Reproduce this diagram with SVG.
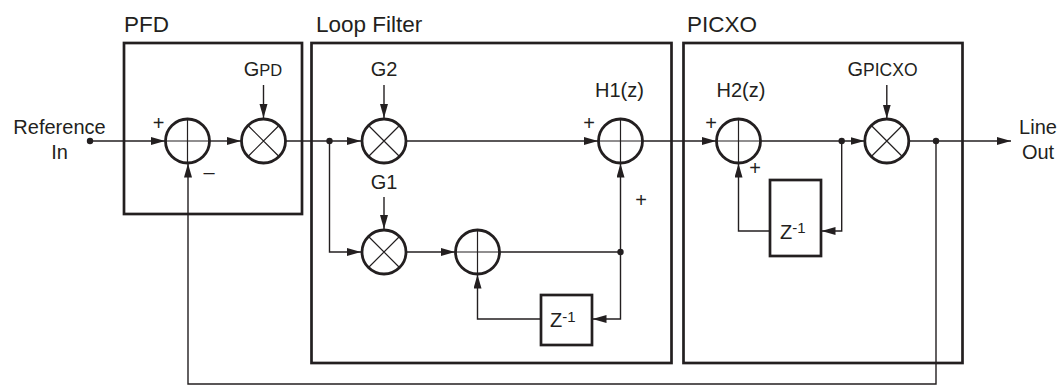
<svg xmlns="http://www.w3.org/2000/svg" width="1061" height="386" viewBox="0 0 1061 386">
<style>
.box{fill:none;stroke:#231f20;stroke-width:2.7}
.op{fill:#fff;stroke:#231f20;stroke-width:2.8}
.in{stroke:#231f20;stroke-width:1.2;fill:none}
.c{fill:none;stroke:#231f20;stroke-width:1.4}
.t{font-family:"Liberation Sans",Arial,sans-serif;fill:#231f20;font-size:20px}
.h{font-family:"Liberation Sans",Arial,sans-serif;fill:#231f20;font-size:22.5px}
.dot{fill:#231f20}
</style>
<defs>
<marker id="a" markerUnits="userSpaceOnUse" markerWidth="15" markerHeight="9" refX="14" refY="4" orient="auto">
<path d="M0,0 L14,4 L0,8 z" fill="#231f20"/>
</marker>
</defs>
<rect width="1061" height="386" fill="#fff"/>

<g id="frames">
<g id="pfd-frame"><rect class="box" x="124" y="43" width="178" height="171"/><text class="h" x="124" y="32">PFD</text></g>
<g id="loop-frame"><rect class="box" x="311.5" y="43" width="360" height="320"/><text class="h" x="316" y="32">Loop Filter</text></g>
<g id="picxo-frame"><rect class="box" x="683.5" y="43" width="279" height="320"/><text class="h" x="687" y="32">PICXO</text></g>
</g>

<g id="connectors">
<path class="c" d="M90,141 H165" marker-end="url(#a)"/>
<path class="c" d="M209.5,141 H241" marker-end="url(#a)"/>
<path class="c" d="M263.5,85 V118" marker-end="url(#a)"/>
<path class="c" d="M286,141 H361" marker-end="url(#a)"/>
<path class="c" d="M384,85 V118" marker-end="url(#a)"/>
<path class="c" d="M406,141 H598" marker-end="url(#a)"/>
<path class="c" d="M329.5,141 V252 H361" marker-end="url(#a)"/>
<path class="c" d="M384,197 V229" marker-end="url(#a)"/>
<path class="c" d="M406,252 H455" marker-end="url(#a)"/>
<path class="c" d="M499.5,252 H620.5 V163.5" marker-end="url(#a)"/>
<path class="c" d="M620.5,252 V319 H592.5" marker-end="url(#a)"/>
<path class="c" d="M541,319 H477.5 V274.5" marker-end="url(#a)"/>
<path class="c" d="M642.5,141 H716" marker-end="url(#a)"/>
<path class="c" d="M760.5,141 H864.5" marker-end="url(#a)"/>
<path class="c" d="M886.8,85 V118.5" marker-end="url(#a)"/>
<path class="c" d="M841.7,141 V231 H821.5" marker-end="url(#a)"/>
<path class="c" d="M770,231 H738.5 V163.5" marker-end="url(#a)"/>
<path class="c" d="M909,141 H1011" marker-end="url(#a)"/>
<path class="c" d="M936,141 V384 H188 V163.5" marker-end="url(#a)"/>
<circle class="dot" cx="90" cy="141" r="3.2"/>
<circle class="dot" cx="329.5" cy="141" r="3.2"/>
<circle class="dot" cx="620.5" cy="252" r="3.2"/>
<circle class="dot" cx="841.7" cy="141" r="3.2"/>
<circle class="dot" cx="936" cy="141" r="3.2"/>
</g>

<g id="ref-in"><text class="t" x="59.5" y="134" text-anchor="middle">Reference</text><text class="t" x="59.5" y="159" text-anchor="middle">In</text></g>
<g id="line-out"><text class="t" x="1038" y="134" text-anchor="middle">Line</text><text class="t" x="1038" y="159" text-anchor="middle">Out</text></g>

<g id="pfd-sum">
<circle class="op" cx="187.5" cy="141" r="22"/>
<path class="in" d="M165.5,141 H209.5 M187.5,119 V163"/>
<text class="t" x="158.5" y="129.5" text-anchor="middle">+</text>
<text class="t" x="209" y="179" text-anchor="middle">–</text>
</g>
<g id="pfd-mult">
<circle class="op" cx="263.5" cy="141" r="22"/>
<path class="in" d="M248,125.5 L279,156.5 M279,125.5 L248,156.5"/>
<text class="t" x="263" y="76" text-anchor="middle">G<tspan font-size="16.5">PD</tspan></text>
</g>

<g id="g2-mult">
<circle class="op" cx="384" cy="141" r="22"/>
<path class="in" d="M368.5,125.5 L399.5,156.5 M399.5,125.5 L368.5,156.5"/>
<text class="t" x="384" y="76" text-anchor="middle">G2</text>
</g>
<g id="g1-mult">
<circle class="op" cx="384" cy="252" r="22"/>
<path class="in" d="M368.5,236.5 L399.5,267.5 M399.5,236.5 L368.5,267.5"/>
<text class="t" x="384" y="189" text-anchor="middle">G1</text>
</g>
<g id="int-sum">
<circle class="op" cx="477.5" cy="252" r="22"/>
<path class="in" d="M455.5,252 H499.5 M477.5,230 V274"/>
</g>
<g id="lf-delay">
<rect class="box" x="541" y="295" width="51" height="50" fill="#fff"/>
<text class="t" x="550" y="327">Z<tspan font-size="15" dy="-5">-1</tspan></text>
</g>
<g id="h1-sum">
<circle class="op" cx="620.5" cy="141" r="22"/>
<path class="in" d="M598.5,141 H642.5 M620.5,119 V163"/>
<text class="t" x="619.5" y="97" text-anchor="middle">H1(z)</text>
<text class="t" x="589" y="129.5" text-anchor="middle">+</text>
<text class="t" x="641" y="207" text-anchor="middle">+</text>
</g>

<g id="h2-sum">
<circle class="op" cx="738.5" cy="141" r="22"/>
<path class="in" d="M716.5,141 H760.5 M738.5,119 V163"/>
<text class="t" x="741" y="97" text-anchor="middle">H2(z)</text>
<text class="t" x="711" y="129.5" text-anchor="middle">+</text>
<text class="t" x="755" y="175" text-anchor="middle">+</text>
</g>
<g id="picxo-delay">
<rect class="box" x="770" y="180" width="51" height="76" fill="#fff"/>
<text class="t" x="780" y="239">Z<tspan font-size="15" dy="-6">-1</tspan></text>
</g>
<g id="picxo-mult">
<circle class="op" cx="886.8" cy="141" r="22"/>
<path class="in" d="M871.3,125.5 L902.3,156.5 M902.3,125.5 L871.3,156.5"/>
<text class="t" x="882.5" y="76" text-anchor="middle">G<tspan font-size="17.5">PICXO</tspan></text>
</g>
</svg>
